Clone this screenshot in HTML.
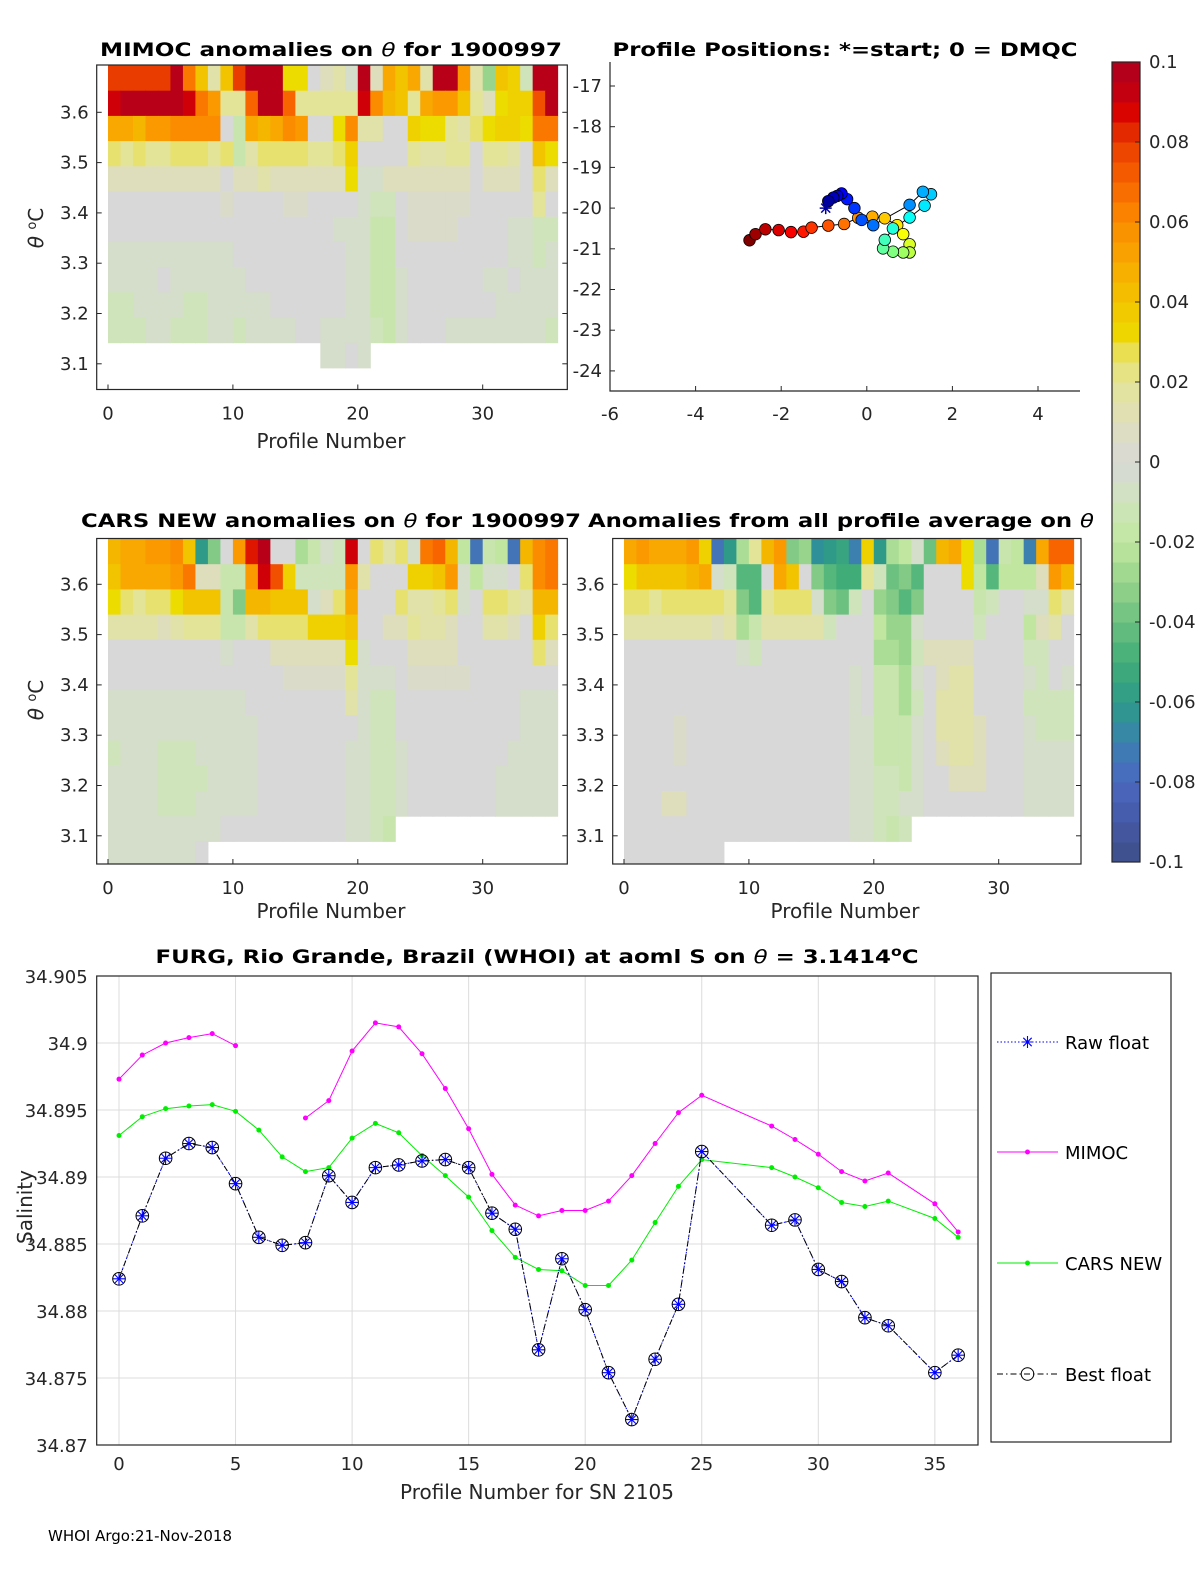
<!DOCTYPE html>
<html><head><meta charset="utf-8">
<style>
html,body{margin:0;padding:0;background:#fff;}
svg{display:block;font-family:"DejaVu Sans","Liberation Sans",sans-serif;}
.tk{font-size:18px;fill:#262626;}
.ttl{font-size:19px;font-weight:bold;fill:#000;}
.lab{font-size:20px;fill:#262626;}
</style></head>
<body>
<svg id="fig" xmlns="http://www.w3.org/2000/svg" width="1200" height="1575" viewBox="0 0 1200 1575">
<rect x="0" y="0" width="1200" height="1575" fill="#fff"/>
<defs>
<clipPath id="clipTL"><rect x="96.7" y="65" width="470.6" height="324.5"/></clipPath>
<clipPath id="clipML"><rect x="96.7" y="538.5" width="470.6" height="325.5"/></clipPath>
<clipPath id="clipMR"><rect x="612.7" y="538.5" width="468.3" height="325.5"/></clipPath>
</defs>
<g id="heatTL" clip-path="url(#clipTL)"></g>
<g id="heatML" clip-path="url(#clipML)"></g>
<g id="heatMR" clip-path="url(#clipMR)"></g>
<g id="axes"></g>

<text class="ttl" x="331" y="56" text-anchor="middle" textLength="462" lengthAdjust="spacingAndGlyphs">MIMOC anomalies on <tspan font-style="italic" font-weight="normal">θ</tspan>  for 1900997</text>
<text class="ttl" x="845" y="56" text-anchor="middle" textLength="465" lengthAdjust="spacingAndGlyphs">Profile Positions: *=start; 0 = DMQC</text>
<text class="ttl" x="331" y="527" text-anchor="middle" textLength="500" lengthAdjust="spacingAndGlyphs">CARS NEW anomalies on <tspan font-style="italic" font-weight="normal">θ</tspan> for 1900997</text>
<text class="ttl" x="841" y="527" text-anchor="middle" textLength="506" lengthAdjust="spacingAndGlyphs">Anomalies from all profile average on <tspan font-style="italic" font-weight="normal">θ</tspan></text>
<text class="ttl" x="537" y="963" text-anchor="middle" textLength="763" lengthAdjust="spacingAndGlyphs">FURG, Rio Grande, Brazil (WHOI) at aoml S on <tspan font-style="italic" font-weight="normal">θ</tspan> = 3.1414<tspan baseline-shift="super" font-size="13">o</tspan>C</text>

<text class="lab" x="331" y="448" text-anchor="middle">Profile Number</text>
<text class="lab" x="331" y="918" text-anchor="middle">Profile Number</text>
<text class="lab" x="845" y="918" text-anchor="middle">Profile Number</text>
<text class="lab" x="537" y="1499" text-anchor="middle">Profile Number for SN 2105</text>
<text class="lab" transform="translate(43,228) rotate(-90)" text-anchor="middle"><tspan font-style="italic">θ</tspan> <tspan baseline-shift="super" font-size="13">o</tspan>C</text>
<text class="lab" transform="translate(43,700) rotate(-90)" text-anchor="middle"><tspan font-style="italic">θ</tspan> <tspan baseline-shift="super" font-size="13">o</tspan>C</text>
<text class="lab" transform="translate(32,1207) rotate(-90)" text-anchor="middle">Salinity</text>
<text x="48" y="1541" font-size="15" fill="#000">WHOI Argo:21-Nov-2018</text>
</svg>
<script>
// ---------- data ----------
// heatmap codes: alphabet index 20 ('U') = 0, each step 0.005
const codeAlphabet = "ABCDEFGHIJKLMNOPQRSTUVWXYZabcdefghijklmno";
const mimocRows = [
"kkkkknhcXcknnnaaUWXTnWeceXnnfXOcbSnn",
"mnnnnnmhfYYinniYYYYYmgdcYeffcYWabbjn",
"eedffggggURedegfUUagXXUUbaaYXZabbahh",
"ZYZYYZZZYZRXZZZZYYZbUUUUYXXYYUYYXUca",
"WWWWWWWWWUWWXWWWWWWaTTWWWWWWWUWWWUZW",
"UUUUUUUUUVUUUUVVUUUUTSSUVVVVVUUUUUYU",
"UUUUUUUUUUUUUUUUUUTTTRRUVVVVUUUUTTSS",
"TTTTTTTTTTUUUUUUUUUTTRRUUUUUUUUUTTST",
"TTTTUTTTTTTUUUUUUUUTTRRTUUUUUUTTUTTT",
"SSTTTTSSTTTTTUUUUUUTTRRTUUUUUUUTTTTT",
"SSSTTSSSTTSTTTTUUTTTTSRTUUUTTTTTTTTS",
".................TTUT"
];
const carsRows = [
"deeffgcINUflnUUPRTSmUZXZThidQFRQFdgh",
"ceeeefhWWRRfmjbSSSSfXUUUbbcfTQTTUZgh",
"aZYZZacccRNddcccTWZeUUUZXXYZTUZZYXdd",
"XXXXWXYYYRRXZZZZbbbcUUWWYXXWUUXXWUbZ",
"UUUUUUUUUTUUUWWWWWWaTUUUWWWWUUUUUUZW",
"UUUUUUUUUUUUUUVVVVVYTTTUVVVVVUUUUUUU",
"TTTTTTTTTTTUUUUUUUUXTSSUUUUUUUUUUTTT",
"TTTTTTTTTTTTUUUUUUUUTSSUUUUUUUUUUTTT",
"STTTSSSTTTTTUUUUUUUTTSSTUUUUUUUUTTTT",
"TTTTSSSSTTTTUUUUUUUTTSSTUUUUUUUTTTTT",
"TTTTSSSTTTTTUUUUUUUTTSSTUUUUUUUTTTTT",
"TTTTTTTTTUUUUUUUUUUTTSR",
"TTTTTTTU"
];
const avgRows = [
"efeeefbFIPYdfNOHIJGbIPQTMdeaPFRQGeii",
"accccdeTSLLUecUNLKKYSMNLUUUaQLQQQWfd",
"ZZYZZZZZYNLYZZZTNMSUONLNUUUURSUUTTZX",
"XXXXXXXWXPRXXXXXSUUUQOOTUUUUSUUUQWXU",
"UUUUUUUUUTSUUUUUUUUUPPOSWWWWUUUUSSUU",
"UUUUUUUUUUUUUUUUUUTURRPTUWXXUUUUTSUT",
"UUUUUUUUUUUUUUUUUUTURRPSUXXXUUUUSSSS",
"UUUUVUUUUUUUUUUUUUTTRRRTUXXXWUUUTSSS",
"UUUUVUUUUUUUUUUUUUTTRRRTUWXXWUUUTTTT",
"UUUUUUUUUUUUUUUUUUTTSSRTUUWWWUUUTTTT",
"UUUWWUUUUUUUUUUUUUTTSSTTUUUUUUUUTTTT",
"UUUUUUUUUUUUUUUUUUTTSRS",
"UUUUUUUU"
];
const heatXTicks = [0, 10, 20, 30];
const thetaTicks = [3.1, 3.2, 3.3, 3.4, 3.5, 3.6];
const thetaLabels = ["3.1", "3.2", "3.3", "3.4", "3.5", "3.6"];
const cbTicks = [0.1, 0.08, 0.06, 0.04, 0.02, 0, -0.02, -0.04, -0.06, -0.08, -0.1];
const cbLabels = ["0.1", "0.08", "0.06", "0.04", "0.02", "0", "-0.02", "-0.04", "-0.06", "-0.08", "-0.1"];

// map
const mapLon = [-0.96,-0.90,-0.78,-0.69,-0.59,-0.46,-0.29,-0.12,0.15,1.0,1.31,1.50,1.35,1.0,0.61,0.42,0.38,0.61,0.85,1.0,1.0,0.85,0.71,0.42,0.13,-0.20,-0.53,-0.90,-1.29,-1.48,-1.77,-2.06,-2.37,-2.60,-2.74];
const mapLat = [-20.0,-19.83,-19.74,-19.70,-19.64,-19.78,-20.0,-20.29,-20.42,-19.92,-19.60,-19.66,-19.94,-20.23,-20.50,-20.78,-20.99,-21.07,-21.09,-21.09,-20.89,-20.64,-20.42,-20.25,-20.21,-20.24,-20.39,-20.43,-20.48,-20.58,-20.59,-20.54,-20.52,-20.64,-20.79];
const lonTicks = [-6, -4, -2, 0, 2, 4];
const latTicks = [-17, -18, -19, -20, -21, -22, -23, -24];

// salinity
const profileNums = [0,1,2,3,4,5,6,7,8,9,10,11,12,13,14,15,16,17,18,19,20,21,22,23,24,25,28,29,30,31,32,33,35,36];
const mimocSal = [34.8973,34.8991,34.9000,34.9004,34.9007,34.8998,null,null,34.8944,34.8957,34.8994,34.9015,34.9012,34.8992,34.8966,34.8936,34.8902,34.8879,34.8871,34.8875,34.8875,34.8882,34.8901,34.8925,34.8948,34.8961,34.8938,34.8928,34.8917,34.8904,34.8897,34.8903,34.8880,34.8859];
const carsSal = [34.8931,34.8945,34.8951,34.8953,34.8954,34.8949,34.8935,34.8915,34.8904,34.8907,34.8929,34.8940,34.8933,34.8916,34.8901,34.8885,34.8860,34.8840,34.8831,34.8830,34.8819,34.8819,34.8838,34.8866,34.8893,34.8913,34.8907,34.8900,34.8892,34.8881,34.8878,34.8882,34.8869,34.8855];
const rawSal = [34.8824,34.8871,34.8914,34.8925,34.8922,34.8895,34.8855,34.8849,34.8851,34.8901,34.8881,34.8907,34.8909,34.8912,34.8913,34.8907,34.8873,34.8861,34.8771,34.8839,34.8801,34.8754,34.8719,34.8764,34.8805,34.8919,34.8864,34.8868,34.8831,34.8822,34.8795,34.8789,34.8754,34.8767];
const bestSal = [34.8824,34.8871,34.8914,34.8925,34.8922,34.8895,34.8855,34.8849,34.8851,34.8901,34.8881,34.8907,34.8909,34.8912,34.8913,34.8907,34.8873,34.8861,34.8771,34.8839,34.8801,34.8754,34.8719,34.8764,34.8805,34.8919,34.8864,34.8868,34.8831,34.8822,34.8795,34.8789,34.8754,34.8767];
const salXTicks = [0, 5, 10, 15, 20, 25, 30, 35];
const salYTicks = [34.905, 34.9, 34.895, 34.89, 34.885, 34.88, 34.875, 34.87];
const salYLabels = ["34.905", "34.9", "34.895", "34.89", "34.885", "34.88", "34.875", "34.87"];

// ---------- helpers ----------
const NS = "http://www.w3.org/2000/svg";
function mk(tag, attrs, parent) {
  const e = document.createElementNS(NS, tag);
  for (const k in attrs) e.setAttribute(k, attrs[k]);
  parent.appendChild(e);
  return e;
}
const anchors = [
 [-0.1,"#3d5088"],[-0.09,"#4558a5"],[-0.08,"#4a68c0"],[-0.07,"#3c80b0"],[-0.065,"#30909a"],[-0.06,"#2f9a88"],
 [-0.05,"#40ad78"],[-0.04,"#6cc080"],[-0.03,"#98d48c"],[-0.02,"#c0e6a0"],[-0.01,"#d0e4bc"],[0,"#d8d8d8"],
 [0.01,"#dedebc"],[0.02,"#e4e498"],[0.027,"#e8e060"],[0.03,"#ecdc00"],[0.04,"#f2c400"],[0.05,"#f8a800"],
 [0.06,"#fb8c00"],[0.07,"#f86400"],[0.08,"#e83c00"],[0.088,"#d80000"],[0.095,"#b80018"],[0.1,"#b0001e"]];
function hex2(h){return [parseInt(h.substr(1,2),16),parseInt(h.substr(3,2),16),parseInt(h.substr(5,2),16)];}
function cmap(v) {
  if (v <= anchors[0][0]) return anchors[0][1];
  for (let i = 1; i < anchors.length; i++) {
    if (v <= anchors[i][0] + 1e-9) {
      const a = hex2(anchors[i-1][1]), b = hex2(anchors[i][1]);
      const t = (v - anchors[i-1][0]) / (anchors[i][0] - anchors[i-1][0]);
      return "rgb(" + a.map((x, j) => Math.round(x + (b[j]-x)*t)).join(",") + ")";
    }
  }
  return anchors[anchors.length-1][1];
}
function codeVal(ch) { return (codeAlphabet.indexOf(ch) - 20) * 0.005; }
function jet(t) {
  const r = Math.max(0, Math.min(1, 1.5 - Math.abs(4*t - 3)));
  const g = Math.max(0, Math.min(1, 1.5 - Math.abs(4*t - 2)));
  const b = Math.max(0, Math.min(1, 1.5 - Math.abs(4*t - 1)));
  return "rgb(" + Math.round(r*255) + "," + Math.round(g*255) + "," + Math.round(b*255) + ")";
}
const axes = document.getElementById("axes");

// ---------- heatmaps ----------
const CW = 12.49, RH = 25.2;
function drawHeat(gid, rows, x0, y0) {
  const g = document.getElementById(gid);
  rows.forEach((row, r) => {
    for (let c = 0; c < row.length; c++) {
      const ch = row[c];
      if (ch === ".") continue;
      const rect = mk("rect", {x: x0 + c*CW, y: y0 + r*RH, width: CW + 0.5, height: RH + 0.5, fill: cmap(codeVal(ch))}, g);
      
      
    }
  });
}
drawHeat("heatTL", mimocRows, 108, 65.5);
drawHeat("heatML", carsRows, 108, 539);
drawHeat("heatMR", avgRows, 624, 539);

function heatAxes(ax, x0, y36, showYLabels, prefix) {
  const box = mk("rect", {x: ax.l, y: ax.t, width: ax.r - ax.l, height: ax.b - ax.t, fill: "none", stroke: "#262626", "stroke-width": 1.2}, axes);
  
  
  heatXTicks.forEach(v => {
    const x = x0 + v*CW;
    const tl = mk("line", {x1: x, x2: x, y1: ax.b, y2: ax.b - 5, stroke: "#262626"}, axes);
    
    
    const t = mk("text", {x: x, y: ax.b + 30, "text-anchor": "middle", class: "tk"}, axes);
    t.textContent = String(v);
    
    
  });
  thetaTicks.forEach((v, i) => {
    const y = y36 + (3.6 - v) * 503;
    const a = mk("line", {x1: ax.l, x2: ax.l + 5, y1: y, y2: y, stroke: "#262626"}, axes);
    
    
    const b = mk("line", {x1: ax.r, x2: ax.r - 5, y1: y, y2: y, stroke: "#262626"}, axes);
    
    
    if (showYLabels) {
      const t = mk("text", {x: ax.l - 8, y: y + 6, "text-anchor": "end", class: "tk"}, axes);
      t.textContent = thetaLabels[i];
      
      
    }
  });
}
heatAxes({l: 96.7, r: 567.3, t: 65, b: 389.5}, 108, 112.3, true, "mimoc");
heatAxes({l: 96.7, r: 567.3, t: 538.5, b: 864}, 108, 584.3, true, "cars");
heatAxes({l: 612.7, r: 1081, t: 538.5, b: 864}, 624, 584.3, true, "average");

// ---------- map ----------
const M = {l: 610, r: 1080, t: 62, b: 391};
function lonX(v) { return 866.8 + v * 42.8; }
function latY(v) { return 86 + (-17 - v) * 40.7; }
const mAxis = mk("path", {d: `M${M.l},${M.t}V${M.b}H${M.r}`, fill: "none", stroke: "#262626", "stroke-width": 1.2}, axes);


lonTicks.forEach(v => {
  const x = lonX(v);
  const tl = mk("line", {x1: x, x2: x, y1: M.b, y2: M.b - 5, stroke: "#262626"}, axes);
  
  
  const t = mk("text", {x: x, y: M.b + 29, "text-anchor": "middle", class: "tk"}, axes);
  t.textContent = String(v);
  
  
});
latTicks.forEach(v => {
  const y = latY(v);
  const tl = mk("line", {x1: M.l, x2: M.l + 5, y1: y, y2: y, stroke: "#262626"}, axes);
  
  
  const t = mk("text", {x: M.l - 8, y: y + 6, "text-anchor": "end", class: "tk"}, axes);
  t.textContent = String(v);
  
  
});
const trackD = mapLon.map((v, i) => (i ? "L" : "M") + lonX(v).toFixed(1) + "," + latY(mapLat[i]).toFixed(1)).join("");
const track = mk("path", {d: trackD, fill: "none", stroke: "#000", "stroke-width": 1}, axes);


for (let i = mapLon.length - 1; i >= 1; i--) {
  const pt = mk("circle", {cx: lonX(mapLon[i]), cy: latY(mapLat[i]), r: 5.8, fill: jet(i / (mapLon.length - 1)), stroke: "#000", "stroke-width": 0.8}, axes);
  
  
}
{
  const sx = lonX(mapLon[0]), sy = latY(mapLat[0]);
  const st = mk("path", {d: `M${sx-6},${sy}H${sx+6}M${sx},${sy-6}V${sy+6}M${sx-4.5},${sy-4.5}L${sx+4.5},${sy+4.5}M${sx-4.5},${sy+4.5}L${sx+4.5},${sy-4.5}`, stroke: "#0000a0", "stroke-width": 1.5}, axes);
  
  
}

// ---------- colorbar ----------
const CB = {x: 1112, w: 28, t: 62, b: 862};
function cbY(v) { return CB.t + (0.1 - v) / 0.2 * (CB.b - CB.t); }
for (let i = 0; i < 40; i++) {
  const v1 = -0.1 + i*0.005, v2 = v1 + 0.005;
  const band = mk("rect", {x: CB.x, y: cbY(v2), width: CB.w, height: cbY(v1) - cbY(v2) + 0.5, fill: cmap((v1 + v2) / 2)}, axes);
  
  
}
const cbBox = mk("rect", {x: CB.x, y: CB.t, width: CB.w, height: CB.b - CB.t, fill: "none", stroke: "#262626", "stroke-width": 1.2}, axes);


cbTicks.forEach((v, i) => {
  const y = cbY(v);
  const tl = mk("line", {x1: CB.x + CB.w - 5, x2: CB.x + CB.w, y1: y, y2: y, stroke: "#262626"}, axes);
  
  
  const t = mk("text", {x: CB.x + 37, y: y + 6, class: "tk"}, axes);
  t.textContent = cbLabels[i];
  
  
});

// ---------- salinity chart ----------
const S = {l: 96.7, r: 978, t: 976, b: 1445};
function sx(v) { return 119 + v * 23.31; }
function sy(v) { return S.t + (34.905 - v) / 0.035 * (S.b - S.t); }
salXTicks.forEach(v => {
  const x = sx(v);
  const gl = mk("line", {x1: x, x2: x, y1: S.t, y2: S.b, stroke: "#dcdcdc", "stroke-width": 1}, axes);
  
  
  const t = mk("text", {x: x, y: 1470, "text-anchor": "middle", class: "tk"}, axes);
  t.textContent = String(v);
  
  
});
salYTicks.forEach((v, i) => {
  const y = sy(v);
  const gl = mk("line", {x1: S.l, x2: S.r, y1: y, y2: y, stroke: "#dcdcdc", "stroke-width": 1}, axes);
  
  
  const t = mk("text", {x: S.l - 9, y: y + 7, "text-anchor": "end", class: "tk", "font-size": "19"}, axes);
  t.textContent = salYLabels[i];
  
  
});
const sBox = mk("rect", {x: S.l, y: S.t, width: S.r - S.l, height: S.b - S.t, fill: "none", stroke: "#262626", "stroke-width": 1.2}, axes);



function seriesPath(vals) {
  let d = "", pen = false;
  vals.forEach((v, i) => {
    if (v === null) { pen = false; return; }
    d += (pen ? "L" : "M") + sx(profileNums[i]).toFixed(1) + "," + sy(v).toFixed(1);
    pen = true;
  });
  return d;
}
const mLine = mk("path", {d: seriesPath(mimocSal), fill: "none", stroke: "#ff00ff", "stroke-width": 1}, axes);


mimocSal.forEach((v, i) => {
  if (v === null) return;
  const d = mk("circle", {cx: sx(profileNums[i]), cy: sy(v), r: 2.5, fill: "#ff00ff"}, axes);
  
  
});
const cLine = mk("path", {d: seriesPath(carsSal), fill: "none", stroke: "#00ee00", "stroke-width": 1}, axes);


carsSal.forEach((v, i) => {
  const d = mk("circle", {cx: sx(profileNums[i]), cy: sy(v), r: 2.5, fill: "#00ee00"}, axes);
  
  
});
const rLine = mk("path", {d: seriesPath(rawSal), fill: "none", stroke: "#0000ff", "stroke-width": 1, "stroke-dasharray": "1.5,2"}, axes);


const bLine = mk("path", {d: seriesPath(bestSal), fill: "none", stroke: "#000", "stroke-width": 1, "stroke-dasharray": "6,3,1.5,3"}, axes);


function star(x, y, s, color) {
  return `M${x-s},${y}H${x+s}M${x},${y-s}V${y+s}M${x-s*0.7},${y-s*0.7}L${x+s*0.7},${y+s*0.7}M${x-s*0.7},${y+s*0.7}L${x+s*0.7},${y-s*0.7}`;
}
rawSal.forEach((v, i) => {
  const p = mk("path", {d: star(sx(profileNums[i]), sy(v), 6), stroke: "#0000ff", "stroke-width": 1.1, fill: "none"}, axes);
  
  
});
bestSal.forEach((v, i) => {
  const c = mk("circle", {cx: sx(profileNums[i]), cy: sy(v), r: 6.3, stroke: "#000", "stroke-width": 1, fill: "none"}, axes);
  
  
});

// ---------- legend ----------
const legBox = mk("rect", {x: 991, y: 973, width: 180, height: 469, fill: "#fff", stroke: "#262626", "stroke-width": 1.2}, axes);


const legNames = ["Raw float", "MIMOC", "CARS NEW", "Best float"];
const legY = [1042, 1152, 1263, 1374];
const legStroke = ["#0000ff", "#ff00ff", "#00ee00", "#000"];
const legDash = ["1.5,2", "", "", "6,3,1.5,3"];
legNames.forEach((n, i) => {
  const y = legY[i];
  const ln = mk("line", {x1: 997, x2: 1058, y1: y, y2: y, stroke: legStroke[i], "stroke-width": 1, "stroke-dasharray": legDash[i] || "none"}, axes);
  
  
  if (i === 0) {
    const m = mk("path", {d: star(1027.5, y, 6), stroke: "#0000ff", "stroke-width": 1.1}, axes);
    
    
  } else if (i === 3) {
    const m = mk("circle", {cx: 1027.5, cy: y, r: 6.3, stroke: "#000", fill: "none"}, axes);
    
    
  } else {
    const m = mk("circle", {cx: 1027.5, cy: y, r: 2.5, fill: legStroke[i]}, axes);
    
    
  }
  const t = mk("text", {x: 1065, y: y + 7, "font-size": "18", fill: "#000"}, axes);
  t.textContent = n;
  
  
});
</script>
</body></html>
